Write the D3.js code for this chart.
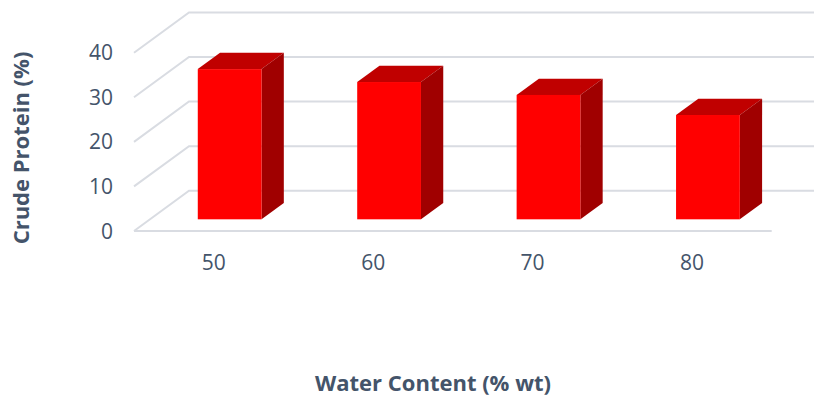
<!DOCTYPE html>
<html>
<head>
<meta charset="utf-8">
<script src="https://cdn.jsdelivr.net/npm/d3@7"></script>
<style>
  html, body { margin: 0; padding: 0; background: #fff; }
  svg { display: block; font-family: "Open Sans", "DejaVu Sans", sans-serif; }
</style>
</head>
<body>
<svg id="chart" width="814" height="398"></svg>
<script>
// Crude protein by water content
const categories = ["50", "60", "70", "80"];
const proteinValues = [33.7, 30.8, 27.9, 23.4];
const yTicks = [0, 10, 20, 30, 40];

const svg = d3.select("#chart");
const textColor = "#44546A";
const gridColor = "#D9DCE2";

// front plane of the 3D box
const x = d3.scaleBand().domain(categories).range([134, 771.7]).paddingInner(0.6).paddingOuter(0.3);
const y = d3.scaleLinear().domain([0, 40]).range([231, 52.7]);

// oblique depth offset of the whole floor
const depthDX = 55, depthDY = -40.3;
const barFront = 0.29, barBack = 0.695;

const g = svg.append("g");

// side wall + back wall gridlines
yTicks.forEach(v => {
  const yf = y(v);
  const yb = yf + depthDY;
  g.append("path")
    .attr("d", `M${134},${yf} L${134 + depthDX},${yb} L${830},${yb}`)
    .attr("fill", "none")
    .attr("stroke", gridColor)
    .attr("stroke-width", 2);
});
// front floor edge
g.append("line")
  .attr("x1", 134).attr("x2", 771.7)
  .attr("y1", y(0)).attr("y2", y(0))
  .attr("stroke", gridColor).attr("stroke-width", 2);

// bars as oblique boxes
const bars = g.selectAll("g.bar").data(categories.map((c, i) => ({ c, v: proteinValues[i] })))
  .enter().append("g").attr("class", "bar");

bars.each(function(d) {
  const sel = d3.select(this);
  const x0 = x(d.c) + barFront * depthDX;
  const x1 = x0 + x.bandwidth();
  const yTop = y(d.v) + barFront * depthDY;
  const yBot = y(0) + barFront * depthDY;
  const ddx = (barBack - barFront) * depthDX;
  const ddy = (barBack - barFront) * depthDY;
  // top face
  sel.append("path")
    .attr("d", `M${x0},${yTop} L${x0 + ddx},${yTop + ddy} L${x1 + ddx},${yTop + ddy} L${x1},${yTop} Z`)
    .attr("fill", "#C00000");
  // right side face
  sel.append("path")
    .attr("d", `M${x1},${yTop} L${x1 + ddx},${yTop + ddy} L${x1 + ddx},${yBot + ddy} L${x1},${yBot} Z`)
    .attr("fill", "#A00000");
  // front face
  sel.append("rect")
    .attr("x", x0).attr("y", yTop)
    .attr("width", x1 - x0).attr("height", yBot - yTop)
    .attr("fill", "#FF0000");
});

// y tick labels
g.selectAll("text.ytick").data(yTicks).enter().append("text")
  .attr("class", "ytick")
  .attr("x", 113)
  .attr("y", d => y(d) + 2)
  .attr("text-anchor", "end")
  .attr("dominant-baseline", "middle")
  .attr("fill", textColor)
  .attr("font-size", 21)
  .text(d => d);

// category labels
g.selectAll("text.xtick").data(categories).enter().append("text")
  .attr("class", "xtick")
  .attr("x", d => x(d) + x.bandwidth() / 2)
  .attr("y", 270)
  .attr("text-anchor", "middle")
  .attr("fill", textColor)
  .attr("font-size", 21)
  .text(d => d);

// axis titles
svg.append("text")
  .attr("x", 433).attr("y", 391)
  .attr("text-anchor", "middle")
  .attr("fill", textColor)
  .attr("font-size", 22)
  .attr("font-weight", "bold")
  .text("Water Content (% wt)");

svg.append("text")
  .attr("transform", "translate(29,148) rotate(-90)")
  .attr("text-anchor", "middle")
  .attr("fill", textColor)
  .attr("font-size", 22)
  .attr("font-weight", "bold")
  .text("Crude Protein (%)");
</script>
</body>
</html>
